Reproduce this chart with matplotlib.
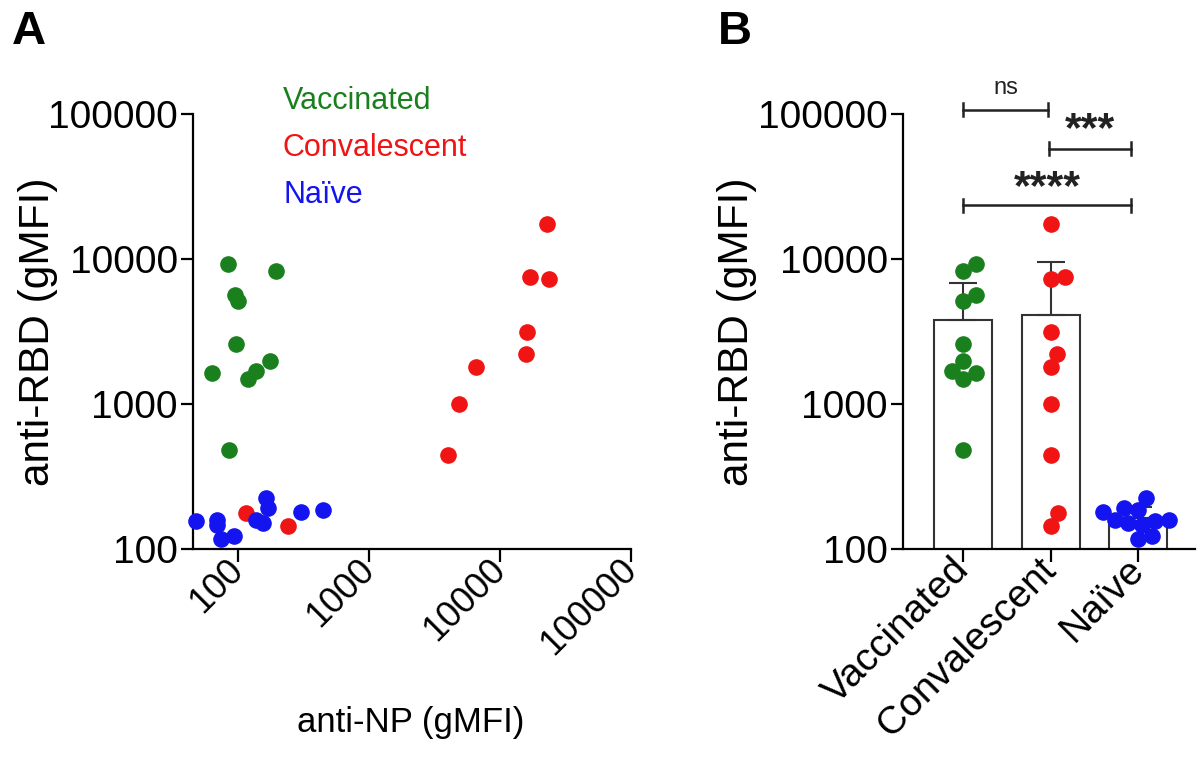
import numpy as np
import matplotlib
matplotlib.use('Agg')
import matplotlib.pyplot as plt
from matplotlib.ticker import FixedLocator, NullLocator

plt.rcParams['font.family'] = ['Liberation Sans', 'DejaVu Sans']

# data (gMFI)
groups = ['Vaccinated', 'Convalescent', 'Naïve']
vac_np = [85, 195, 96, 100, 97, 64, 120, 139, 175, 86]
vac_rbd = [9180, 8260, 5650, 5130, 2580, 1630, 1490, 1700, 1980, 482]
conv_np = [116, 243, 4050, 4890, 6600, 15900, 16100, 17000, 23800, 22800]
conv_rbd = [176, 145, 443, 1000, 1810, 2210, 3120, 7480, 7250, 17300]
naive_np = [48, 69, 69, 74, 94, 137, 156, 165, 170, 304, 449]
naive_rbd = [157, 158, 146, 118, 123, 158, 150, 224, 191, 179, 186]
decades = [100, 1000, 10000, 100000]
decade_labels = ['100', '1000', '10000', '100000']

green = '#1a801e'
red = '#f01414'
blue = '#1414f0'
colors = [green, red, blue]

fig = plt.figure(figsize=(12, 7.65), dpi=100)
axA = fig.add_axes([193/1200, 1-549/765, 438/1200, 435/765])
axB = fig.add_axes([903/1200, 1-549/765, 292/1200, 435/765])


def style(ax):
    ax.set_yscale('log')
    ax.set_ylim(100, 100000)
    ax.yaxis.set_major_locator(FixedLocator(decades))
    ax.yaxis.set_minor_locator(NullLocator())
    ax.set_yticklabels(decade_labels)
    ax.spines['top'].set_visible(False)
    ax.spines['right'].set_visible(False)
    for s in ['left', 'bottom']:
        ax.spines[s].set_linewidth(1.6)
    ax.tick_params(length=9, width=1.6, labelsize=28, pad=2)
    ax.set_ylabel('anti-RBD (gMFI)', fontsize=30.5)


# panel A - scatter
style(axA)
axA.set_xscale('log')
axA.set_xlim(45.6, 100000)
axA.xaxis.set_major_locator(FixedLocator(decades))
axA.xaxis.set_minor_locator(NullLocator())
axA.set_xticklabels(decade_labels, rotation=45, ha='right', va='center',
                    rotation_mode='anchor', fontsize=26)
axA.scatter(vac_np, vac_rbd, s=120, color=green, zorder=3, clip_on=False)
axA.scatter(conv_np, conv_rbd, s=120, color=red, zorder=3, clip_on=False)
axA.scatter(naive_np, naive_rbd, s=120, color=blue, zorder=3, clip_on=False)
axA.set_xlabel('anti-NP (gMFI)', fontsize=25)
axA.xaxis.set_label_coords(0.498, -0.36)
axA.yaxis.set_label_coords(-0.308, 0.5)

for i, (name, c) in enumerate(zip(groups, colors)):
    fig.text(283/1200, 1-(101+47*i)/765, name, color=c, fontsize=22, va='center')

# panel B - bars with points
style(axB)
axB.set_xlim(-0.69, 2.65)
axB.set_xticks(range(3))
axB.set_xticklabels(groups, rotation=45, ha='right', va='center',
                    rotation_mode='anchor', fontsize=28)
axB.yaxis.set_label_coords(-0.5, 0.5)

rbd = [vac_rbd, conv_rbd, naive_rbd]
means = [np.mean(v) for v in rbd]
sds = [np.std(v, ddof=1) for v in rbd]
axB.bar(range(3), means, width=0.66, color='white', edgecolor='#333333',
        linewidth=1.5, zorder=1)
axB.errorbar(range(3), means, yerr=[np.zeros(3), sds], fmt='none',
             ecolor='#333333', elinewidth=1.5, capsize=10, capthick=1.5, zorder=2)


def swarm(ax, xc, vals, d=14.0):
    py = ax.transData.transform(np.column_stack([np.zeros(len(vals)), vals]))[:, 1]
    offs = np.zeros(len(vals))
    placed = []
    for i in np.argsort(py):
        cands = [0.0]
        for ox, oy in placed:
            dy = py[i] - oy
            if abs(dy) < d:
                dx = np.sqrt(d * d - dy * dy)
                cands += [ox + dx, ox - dx]
        for c in sorted(cands, key=abs):
            if all((c - ox) ** 2 + (py[i] - oy) ** 2 >= d * d - 1e-6 for ox, oy in placed):
                offs[i] = c
                break
        placed.append((offs[i], py[i]))
    unit = ax.transData.transform((1, 1))[0] - ax.transData.transform((0, 1))[0]
    return xc + offs / unit


for k, (v, c) in enumerate(zip(rbd, colors)):
    axB.scatter(swarm(axB, k, v), v, s=120, color=c, zorder=3, clip_on=False)

# significance brackets
brackets = [(0, 0.97, 5.028, 'ns', 17, 'normal', 5.18),
            (0.98, 1.92, 4.759, '***', 31, 'bold', 4.89),
            (0, 1.92, 4.372, '****', 31, 'bold', 4.49)]
for x0, x1, ly, lab, fs, fw, ty in brackets:
    axB.plot([x0, x1], [10**ly, 10**ly], color='#222222', lw=1.8, clip_on=False)
    for xx in (x0, x1):
        axB.plot([xx, xx], [10**(ly-0.045), 10**(ly+0.045)], color='#222222',
                 lw=1.8, clip_on=False)
    axB.text((x0+x1)/2, 10**ty, lab, ha='center', va='center', fontsize=fs,
             fontweight=fw, color='#222222')

fig.text(12/1200, 1-32/765, 'A', fontsize=34, fontweight='bold', va='center')
fig.text(718/1200, 1-32/765, 'B', fontsize=34, fontweight='bold', va='center')

fig.savefig('out.png', dpi=100)
